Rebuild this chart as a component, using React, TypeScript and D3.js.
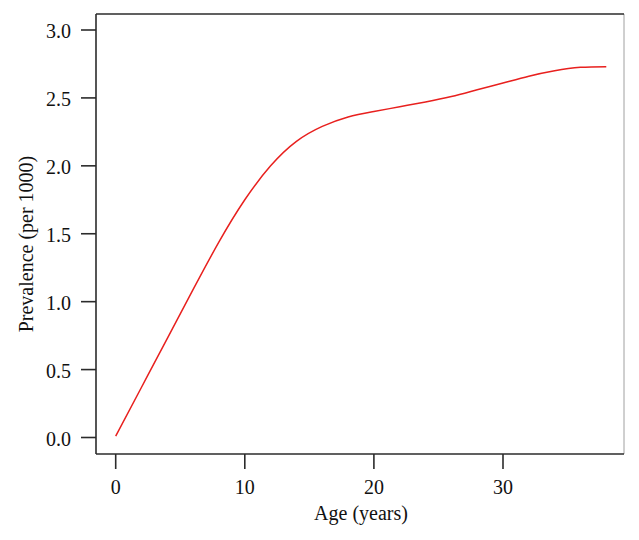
import React from "react";
import * as d3 from "d3";

const ages = [0, 2, 4, 6, 8, 10, 12, 14, 16, 18, 20, 22, 24, 26, 28, 30, 32, 34, 36, 38];
const prevalence = [0.01, 0.37, 0.73, 1.09, 1.44, 1.75, 2.0, 2.18, 2.29, 2.36, 2.4, 2.435, 2.47, 2.51, 2.56, 2.61, 2.66, 2.7, 2.725, 2.73];
const xTicks = [0, 10, 20, 30];
const yTicks = [0, 0.5, 1, 1.5, 2, 2.5, 3];

const width = 639;
const height = 540;
const frame = { left: 96, right: 624, top: 14, bottom: 454 };
const font = "'Liberation Serif', 'Times New Roman', serif";
const axisColor = "#2b2b2b";

export default function App() {
  const xScale = d3.scaleLinear().domain([0, 30]).range([115.7, 503]);
  const yScale = d3.scaleLinear().domain([0, 3]).range([437.5, 30]);

  const line = d3
    .line<number>()
    .x((d, i) => xScale(ages[i]))
    .y(d => yScale(d))
    .curve(d3.curveNatural);

  return (
    <svg width={width} height={height} style={{ position: "absolute", left: 0, top: 0 }}>
      <rect width={width} height={height} fill="#fff" />
      {/* frame */}
      <line x1={frame.right} x2={frame.right} y1={frame.top} y2={frame.bottom} stroke="#a0a0a0" strokeWidth={1} />
      <line x1={frame.left} x2={frame.right} y1={frame.top} y2={frame.top} stroke={axisColor} strokeWidth={1.6} />
      <line x1={frame.left} x2={frame.right} y1={frame.bottom} y2={frame.bottom} stroke={axisColor} strokeWidth={1.6} />
      <line x1={frame.left} x2={frame.left} y1={frame.top} y2={frame.bottom} stroke={axisColor} strokeWidth={1.6} />

      {/* y axis */}
      <g fontFamily={font} fontSize={20} fill="#111">
        {yTicks.map(t => (
          <g key={t} transform={`translate(0,${yScale(t)})`}>
            <line x1={frame.left - 15} x2={frame.left} stroke={axisColor} strokeWidth={1.6} />
            <text x={71} y={1} textAnchor="end" dominantBaseline="central">
              {d3.format(".1f")(t)}
            </text>
          </g>
        ))}
        <text transform={`translate(33,244) rotate(-90)`} textAnchor="middle">
          Prevalence (per 1000)
        </text>
      </g>

      {/* x axis */}
      <g fontFamily={font} fontSize={20} fill="#111">
        {xTicks.map(t => (
          <g key={t} transform={`translate(${xScale(t)},0)`}>
            <line y1={frame.bottom} y2={frame.bottom + 15} stroke={axisColor} strokeWidth={1.6} />
            <text y={494} textAnchor="middle">
              {t}
            </text>
          </g>
        ))}
        <text x={361} y={520} textAnchor="middle">
          Age (years)
        </text>
      </g>

      <path d={line(prevalence) || ""} fill="none" stroke="#e8201e" strokeWidth={1.5} />
    </svg>
  );
}
